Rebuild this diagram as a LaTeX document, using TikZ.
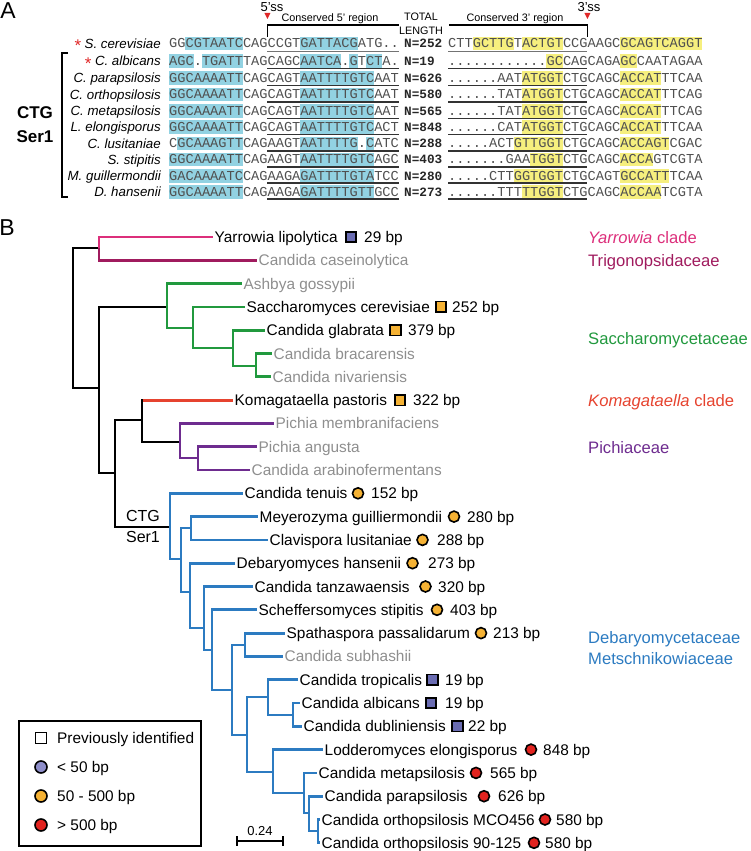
\documentclass[tikz,border=0pt]{standalone}
\usepackage{fontspec}
\setmainfont{Liberation Sans}
\newfontfamily\monof{Liberation Mono}
\usetikzlibrary{calc}
\definecolor{hlblue}{HTML}{92D2E2}
\definecolor{hlyel}{HTML}{F6EF7E}
\definecolor{seqgray}{HTML}{505050}
\definecolor{cmag}{HTML}{DC2F7B}
\definecolor{cdmag}{HTML}{A01B5E}
\definecolor{cgreen}{HTML}{21993E}
\definecolor{cred}{HTML}{E6432F}
\definecolor{cpurple}{HTML}{6E2C8F}
\definecolor{cblue}{HTML}{2C7BC1}
\definecolor{lgray}{HTML}{8E8E8E}
\definecolor{sqblue}{HTML}{6A6CB2}
\definecolor{lav}{HTML}{8E8ECA}
\definecolor{corange}{HTML}{F5B234}
\definecolor{cdred}{HTML}{E2231F}
\definecolor{tri}{HTML}{E02828}
\newcommand{\seqfont}{\monof\fontsize{13.67}{14}\selectfont}
\newcommand{\trfont}{\fontsize{15.4}{17}\selectfont}
\newcommand{\clfont}{\fontsize{16.6}{18}\selectfont}
\newcommand{\spfont}{\itshape\fontsize{13.3}{14}\selectfont}
% highlight macros: #1 yc, #2 start index, #3 length
\newcommand{\hlbx}[3]{\fill[hlblue] ({169+8.2*#2},{#1-6.8}) rectangle ({169+8.2*(#2+#3)},{#1+6.8});}
\newcommand{\hlyx}[3]{\fill[hlyel] ({448+8.2*#2},{#1-6.8}) rectangle ({448+8.2*(#2+#3)},{#1+6.8});}
% row: #1 id, #2 yc, #3 species, #4 left string, #5 N, #6 right string
\newcommand{\seqrow}[6]{%
  \node[spname] (sp#1) at (161,{#2+4.8}) {#3};
  \node[seqtxt] (sa#1) at (169,{#2+4.4}) {#4};
  \node[nlen] (nn#1) at (404,{#2+4.4}) {N=#5};
  \node[seqtxt] (sb#1) at (448,{#2+4.4}) {#6};
}
\newcommand{\ulrow}[2]{%
  \draw[#2] ({169+8.2*12},{#1+7.5}) -- ({169+8.2*28},{#1+7.5});
  \draw[#2] (448,{#1+7.5}) -- ({448+8.2*17},{#1+7.5});
}
\begin{document}
\begin{tikzpicture}[x=1pt,y=-1pt,
  seqtxt/.style={anchor=base west, inner sep=0pt, font=\seqfont, text=seqgray},
  nlen/.style={anchor=base west, inner sep=0pt, font=\monof\bfseries\fontsize{12.7}{13}\selectfont, text=black!85},
  spname/.style={anchor=base east, inner sep=0pt, font=\spfont},
  ulthick/.style={line width=1.9pt, black!80},
  ulthin/.style={line width=0.9pt, black!55},
  hdr/.style={inner sep=0pt, font=\fontsize{10.8}{12}\selectfont},
  br/.style={line width=2.8pt, line join=miter},
  leaf/.style={anchor=west, inner xsep=1.5pt, inner ysep=0pt, text height=11pt, text depth=0pt, font=\trfont},
  gleaf/.style={leaf, text=lgray},
  bp/.style={anchor=west, inner sep=0pt, text height=11pt, text depth=0pt, font=\trfont},
  clade/.style={anchor=west, inner sep=0pt, text height=12pt, text depth=0pt, font=\clfont},
  sqm/.style={rectangle, draw=black, line width=1.6pt, minimum size=10.5pt, inner sep=0pt},
  circm/.style={circle, draw=black, line width=1.6pt, minimum size=11pt, inner sep=0pt},
  ast/.style={anchor=base east, inner sep=0pt, text height=12pt, text depth=0pt, text=tri, font=\fontsize{17}{17}\selectfont}
]
\useasboundingbox (0,0) rectangle (750,851);

% ---------------- Panel A ----------------
\node[font=\fontsize{23}{24}\selectfont, inner sep=0pt] (labA) at (8,11) {A};

\node[inner sep=0pt, font=\fontsize{13}{14}\selectfont] (ss5) at (272,7) {5'ss};
\node[inner sep=0pt, font=\fontsize{13}{14}\selectfont] (ss3) at (589,7) {3'ss};
\fill[tri] (264.4,13) -- (270.4,13) -- (267.4,19) -- cycle;
\fill[tri] (584.4,13) -- (590.4,13) -- (587.4,19) -- cycle;
\node[hdr] (c5) at (330,19) {Conserved 5' region};
\node[hdr] (c3) at (515,19) {Conserved 3' region};
\node[hdr] (tot) at (421,17) {TOTAL};
\node[hdr] (len) at (421,31) {LENGTH};
\draw[line width=1.4pt] (267.4,37) -- (267.4,25) -- (398.6,25);
\draw[line width=1.4pt] (449,25) -- (587.4,25) -- (587.4,37);

% highlights
% row 0
\hlbx{43.5}{2}{7} \hlbx{43.5}{16}{7}
\hlyx{43.5}{3}{5} \hlyx{43.5}{9}{5} \hlyx{43.5}{21}{10}
% row 1
\hlbx{61}{0}{3} \hlbx{61}{4}{5} \hlbx{61}{16}{5} \hlbx{61}{22}{1} \hlbx{61}{24}{2}
\hlyx{61}{12}{2} \hlyx{61}{21}{2}
% rows 2-5
\hlbx{78}{0}{9} \hlbx{78}{16}{9} \hlyx{78}{9}{5} \hlyx{78}{21}{5}
\hlbx{94.5}{0}{9} \hlbx{94.5}{16}{9} \hlyx{94.5}{9}{5} \hlyx{94.5}{21}{5}
\hlbx{111}{0}{9} \hlbx{111}{16}{9} \hlyx{111}{9}{5} \hlyx{111}{21}{5}
\hlbx{127}{0}{9} \hlbx{127}{16}{9} \hlyx{127}{9}{5} \hlyx{127}{21}{5}
% row 6
\hlbx{143.3}{1}{8} \hlbx{143.3}{16}{7} \hlbx{143.3}{24}{1}
\hlyx{143.3}{8}{6} \hlyx{143.3}{21}{6}
% row 7
\hlbx{159.5}{0}{9} \hlbx{159.5}{16}{9} \hlyx{159.5}{10}{4} \hlyx{159.5}{21}{4}
% row 8
\hlbx{175.7}{0}{9} \hlbx{175.7}{16}{9} \hlyx{175.7}{8}{6} \hlyx{175.7}{21}{6}
% row 9
\hlbx{191.7}{0}{9} \hlbx{191.7}{16}{9} \hlyx{191.7}{9}{5} \hlyx{191.7}{21}{5}

% underlines
\ulrow{43.5}{ulthin}
\ulrow{61}{ulthick}
\ulrow{78}{ulthick}
\ulrow{94.5}{ulthick}
\ulrow{111}{ulthick}
\ulrow{127}{ulthick}
\ulrow{143.3}{ulthick}
\ulrow{159.5}{ulthick}
\ulrow{175.7}{ulthick}
\ulrow{191.7}{ulthick}

% text rows
\seqrow{0}{43.5}{S. cerevisiae}{GGCGTAATCCAGCCGTGATTACGATG..}{252}{CTTGCTTGTACTGTCCGAAGCGCAGTCAGGT}
\seqrow{1}{61}{C. albicans}{AGC.TGATTTAGCAGCAATCA.GTCTA.}{19}{............GCCAGCAGAGCCAATAGAA}
\seqrow{2}{78}{C. parapsilosis}{GGCAAAATTCAGCAGTAATTTTGTCAAT}{626}{......AATATGGTCTGCAGCACCATTTCAA}
\seqrow{3}{94.5}{C. orthopsilosis}{GGCAAAATTCAGCAGTAATTTTGTCAAT}{580}{......TATATGGTCTGCAGCACCATTTCAG}
\seqrow{4}{111}{C. metapsilosis}{GGCAAAATTCAGCAGTAATTTTGTCAAT}{565}{......TATATGGTCTGCAGCACCATTTCAG}
\seqrow{5}{127}{L. elongisporus}{GGCAAAATTCAGCAGTAATTTTGTCACT}{848}{......CATATGGTCTGCAGCACCATTTCAA}
\seqrow{6}{143.3}{C. lusitaniae}{CGCAAAGTTCAGAAGTAATTTTG.CATC}{288}{.....ACTGTTGGTCTGCAGCACCAGTCGAC}
\seqrow{7}{159.5}{S. stipitis}{GGCAAAATTCAGAAGTAATTTTGTCAGC}{403}{.......GAATGGTCTGCAGCACCAGTCGTA}
\seqrow{8}{175.7}{M. guillermondii}{GACAAAATCCAGAAGAGATTTTGTATCC}{280}{.....CTTGGTGGTCTGCAGTGCCATTTCAA}
\seqrow{9}{191.7}{D. hansenii}{GGCAAAATTCAGAAGAGATTTTGTTGCC}{273}{......TTTTTGGTCTGCAGCACCAATCGTA}

\node[ast] (ast0) at ($(sp0.base west)+(-3,3.5)$) {*};
\node[ast] (ast1) at ($(sp1.base west)+(-3,3.5)$) {*};

% CTG Ser1 bracket
\draw[line width=2pt] (68,53) -- (62,53) -- (62,197) -- (68,197);
\node[font=\bfseries\fontsize{17}{18}\selectfont, inner sep=0pt] (ctgA) at (35,113) {CTG};
\node[font=\bfseries\fontsize{17}{18}\selectfont, inner sep=0pt] (serA) at (35,137) {Ser1};

% ---------------- Panel B ----------------
\node[font=\fontsize{23}{24}\selectfont, inner sep=0pt] (labB) at (7,228) {B};

% leaves
\node[leaf]  (lYar) at (213,237)   {Yarrowia lipolytica};
\node[gleaf] (lCas) at (257,260.3) {Candida caseinolytica};
\node[gleaf] (lAsh) at (242,283.6) {Ashbya gossypii};
\node[leaf]  (lSce) at (245,306.9) {Saccharomyces cerevisiae};
\node[leaf]  (lGla) at (265,330.2) {Candida glabrata};
\node[gleaf] (lBra) at (272,353.5) {Candida bracarensis};
\node[gleaf] (lNiv) at (271,376.8) {Candida nivariensis};
\node[leaf]  (lKom) at (233,400.1) {Komagataella pastoris};
\node[gleaf] (lMem) at (274,423.4) {Pichia membranifaciens};
\node[gleaf] (lAng) at (257,446.7) {Pichia angusta};
\node[gleaf] (lAra) at (250,470)   {Candida arabinofermentans};
\node[leaf]  (lTen) at (243,493.3) {Candida tenuis};
\node[leaf]  (lMey) at (258,516.6) {Meyerozyma guilliermondii};
\node[leaf]  (lCla) at (268,539.9) {Clavispora lusitaniae};
\node[leaf]  (lDeb) at (235,563.2) {Debaryomyces hansenii};
\node[leaf]  (lTan) at (253,586.5) {Candida tanzawaensis};
\node[leaf]  (lSti) at (257,609.8) {Scheffersomyces stipitis};
\node[leaf]  (lSpa) at (285,633.1) {Spathaspora passalidarum};
\node[gleaf] (lSub) at (283,656.4) {Candida subhashii};
\node[leaf]  (lTro) at (298,679.7) {Candida tropicalis};
\node[leaf]  (lAlb) at (300,703)   {Candida albicans};
\node[leaf]  (lDub) at (302,726.3) {Candida dubliniensis};
\node[leaf]  (lLod) at (323,749.6) {Lodderomyces elongisporus};
\node[leaf]  (lMet) at (317,772.9) {Candida metapsilosis};
\node[leaf]  (lPar) at (323,796.2) {Candida parapsilosis};
\node[leaf]  (lMCO) at (320,819.5) {Candida orthopsilosis MCO456};
\node[leaf]  (l90)  at (320,842.8) {Candida orthopsilosis 90-125};

% internal nodes
\coordinate (R)   at (73,318);
\coordinate (nY)  at (99,248);
\coordinate (n2)  at (99,388);
\coordinate (nS)  at (167,307);
\coordinate (nS2) at (193,328);
\coordinate (nS3) at (233,348);
\coordinate (nS4) at (256,366);
\coordinate (n3)  at (115,473);
\coordinate (nK)  at (142,420);
\coordinate (nP)  at (180,442);
\coordinate (nP2) at (198,458);
\coordinate (nC0) at (170,527);
\coordinate (nC1) at (181,559);
\coordinate (nC2) at (191,528);
\coordinate (nC3) at (190,592);
\coordinate (nC4) at (204,628);
\coordinate (nC5) at (212,650);
\coordinate (nC6) at (232,690);
\coordinate (nC7) at (245,645);
\coordinate (nC8) at (247,735);
\coordinate (nC9) at (268,697);
\coordinate (nC10) at (273,772);
\coordinate (nC11) at (293,715);
\coordinate (nC12) at (304,793);
\coordinate (nC13) at (309,813);
\coordinate (nC14) at (318,831);

% branches
\draw[br] (R) |- (nY);
\draw[br] (R) |- (n2);
\draw[br, cmag] (nY) |- (lYar.west);
\draw[br, cdmag] (nY) |- (lCas.west);
\draw[br] (n2) |- (nS);
\draw[br] (n2) |- (n3);
\draw[br, cgreen] (nS) |- (lAsh.west);
\draw[br, cgreen] (nS) |- (nS2);
\draw[br, cgreen] (nS2) |- (lSce.west);
\draw[br, cgreen] (nS2) |- (nS3);
\draw[br, cgreen] (nS3) |- (lGla.west);
\draw[br, cgreen] (nS3) |- (nS4);
\draw[br, cgreen] (nS4) |- (lBra.west);
\draw[br, cgreen] (nS4) |- (lNiv.west);
\draw[br] (n3) |- (nK);
\draw[br] (n3) |- (nC0);
\draw[br] (nK) |- (lKom.west);
\draw[br, cred] ($(nK |- lKom.west)+(1.4,0)$) -- (lKom.west);
\draw[br] (nK) |- (nP);
\draw[br, cpurple] (nP) |- (lMem.west);
\draw[br, cpurple] (nP) |- (nP2);
\draw[br, cpurple] (nP2) |- (lAng.west);
\draw[br, cpurple] (nP2) |- (lAra.west);
\begin{scope}[cblue]
\draw[br] (nC0) |- (lTen.west);
\draw[br] (nC0) |- (nC1);
\draw[br] (nC1) |- (nC2);
\draw[br] (nC1) |- (nC3);
\draw[br] (nC2) |- (lMey.west);
\draw[br] (nC2) |- (lCla.west);
\draw[br] (nC3) |- (lDeb.west);
\draw[br] (nC3) |- (nC4);
\draw[br] (nC4) |- (lTan.west);
\draw[br] (nC4) |- (nC5);
\draw[br] (nC5) |- (lSti.west);
\draw[br] (nC5) |- (nC6);
\draw[br] (nC6) |- (nC7);
\draw[br] (nC6) |- (nC8);
\draw[br] (nC7) |- (lSpa.west);
\draw[br] (nC7) |- (lSub.west);
\draw[br] (nC8) |- (nC9);
\draw[br] (nC8) |- (nC10);
\draw[br] (nC9) |- (lTro.west);
\draw[br] (nC9) |- (nC11);
\draw[br] (nC11) |- (lAlb.west);
\draw[br] (nC11) |- (lDub.west);
\draw[br] (nC10) |- (lLod.west);
\draw[br] (nC10) |- (nC12);
\draw[br] (nC12) |- (lMet.west);
\draw[br] (nC12) |- (nC13);
\draw[br] (nC13) |- (lPar.west);
\draw[br] (nC13) |- (nC14);
\draw[br] (nC14) |- (lMCO.west);
\draw[br] (nC14) |- (l90.west);
\end{scope}

\node[font=\fontsize{16}{17}\selectfont, inner sep=0pt] (ctgB) at (143,516) {CTG};
\node[font=\fontsize{16}{17}\selectfont, inner sep=0pt] (serB) at (143,537) {Ser1};

% markers and lengths
\node[sqm, fill=sqblue] (mYar) at (351,237) {};   \node[bp] (bYar) at (364,237) {29 bp};
\node[sqm, fill=corange] (mSce) at (441,306.9) {}; \node[bp] (bSce) at (452,306.9) {252 bp};
\node[sqm, fill=corange] (mGla) at (395.5,330.2) {}; \node[bp] (bGla) at (408,330.2) {379 bp};
\node[sqm, fill=corange] (mKom) at (400,400.1) {}; \node[bp] (bKom) at (413,400.1) {322 bp};
\node[circm, fill=corange] (mTen) at (358,493.3) {}; \node[bp] (bTen) at (371,493.3) {152 bp};
\node[circm, fill=corange] (mMey) at (454,516.6) {}; \node[bp] (bMey) at (467,516.6) {280 bp};
\node[circm, fill=corange] (mCla) at (422.5,539.9) {}; \node[bp] (bCla) at (437,539.9) {288 bp};
\node[circm, fill=corange] (mDeb) at (412.5,563.2) {}; \node[bp] (bDeb) at (428,563.2) {273 bp};
\node[circm, fill=corange] (mTan) at (425.5,586.5) {}; \node[bp] (bTan) at (438,586.5) {320 bp};
\node[circm, fill=corange] (mSti) at (437,609.8) {}; \node[bp] (bSti) at (450,609.8) {403 bp};
\node[circm, fill=corange] (mSpa) at (481,633.1) {}; \node[bp] (bSpa) at (493,633.1) {213 bp};
\node[sqm, fill=sqblue] (mTro) at (432.5,679.7) {}; \node[bp] (bTro) at (445,679.7) {19 bp};
\node[sqm, fill=sqblue] (mAlb) at (431,703) {}; \node[bp] (bAlb) at (445,703) {19 bp};
\node[sqm, fill=sqblue] (mDub) at (457.5,726.3) {}; \node[bp] (bDub) at (468,726.3) {22 bp};
\node[circm, fill=cdred] (mLod) at (531,749.6) {}; \node[bp] (bLod) at (543,749.6) {848 bp};
\node[circm, fill=cdred] (mMet) at (476,772.9) {}; \node[bp] (bMet) at (490,772.9) {565 bp};
\node[circm, fill=cdred] (mPar) at (484,796.2) {}; \node[bp] (bPar) at (498,796.2) {626 bp};
\node[circm, fill=cdred] (mMCO) at (545,819.5) {}; \node[bp] (bMCO) at (556,819.5) {580 bp};
\node[circm, fill=cdred] (m90) at (534,842.8) {}; \node[bp] (b90) at (545,842.8) {580 bp};

% clade labels
\node[clade, text=cmag] (kYar) at (588,237) {\itshape Yarrowia\upshape{} clade};
\node[clade, text=cdmag] (kTri) at (588,260) {Trigonopsidaceae};
\node[clade, text=cgreen] (kSac) at (588,338) {Saccharomycetaceae};
\node[clade, text=cred] (kKom) at (588,400) {\itshape Komagataella\upshape{} clade};
\node[clade, text=cpurple] (kPic) at (588,447) {Pichiaceae};
\node[clade, text=cblue] (kDeb) at (588,637) {Debaryomycetaceae};
\node[clade, text=cblue] (kMet) at (588,658) {Metschnikowiaceae};

% legend
\draw[line width=1.5pt] (19,721) rectangle (201,846);
\node[sqm, fill=white, minimum size=11pt] (g1) at (41,738) {};
\node[bp] (t1) at (57,738) {Previously identified};
\node[circm, fill=lav, minimum size=12pt] (g2) at (41,767) {};
\node[bp] (t2) at (57,767) {< 50 bp};
\node[circm, fill=corange, minimum size=12pt] (g3) at (41,796) {};
\node[bp] (t3) at (57,796) {50 - 500 bp};
\node[circm, fill=cdred, minimum size=12pt] (g4) at (41,825) {};
\node[bp] (t4) at (57,825) {> 500 bp};

% scale bar
\coordinate (sbL) at (237,841);
\coordinate (sbR) at (283,841);
\draw[line width=1.5pt] (sbL) -- (sbR);
\draw[line width=1.5pt] ($(sbL)+(0,-5)$) -- ($(sbL)+(0,5)$);
\draw[line width=1.5pt] ($(sbR)+(0,-5)$) -- ($(sbR)+(0,5)$);
\node[inner sep=0pt, font=\fontsize{13}{14}\selectfont] (sbT) at (260,831) {0.24};
\end{tikzpicture}
\end{document}
